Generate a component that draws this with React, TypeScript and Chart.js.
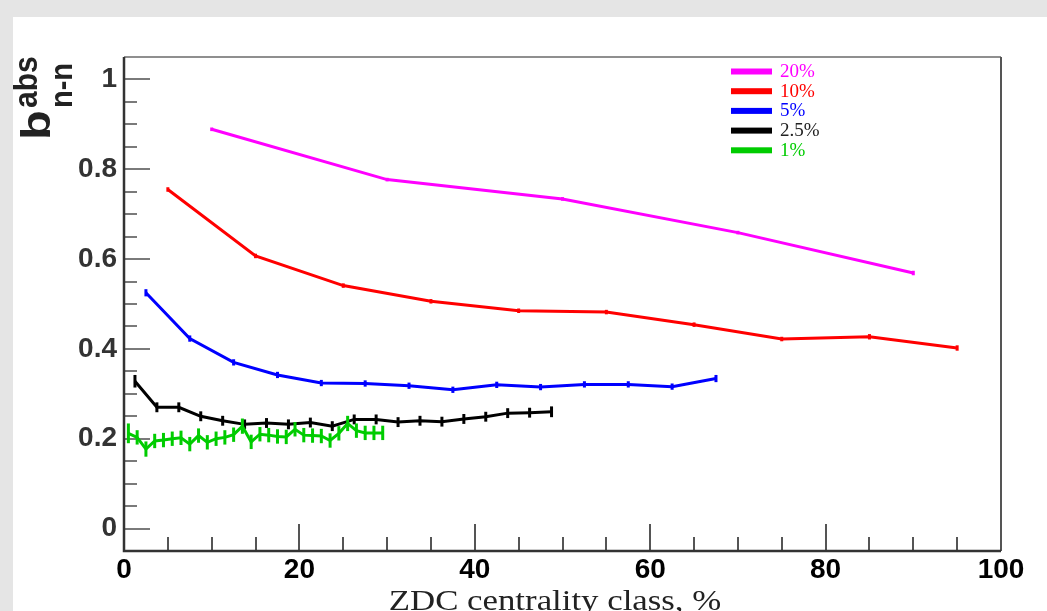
import React, { useEffect, useRef } from 'react';
import { Chart, registerables } from 'chart.js';

Chart.register(...registerables);

// ---- data ----
const SERIES_LABELS = ['20%', '10%', '5%', '2.5%', '1%'];
const SERIES_COLORS = ['#ff00ff', '#ff0000', '#0000ff', '#000000', '#00cc00'];

const X_20 = [10, 30, 50, 70, 90];
const Y_20 = [0.889, 0.777, 0.734, 0.659, 0.569];
const E_20 = [0.004, 0.004, 0.004, 0.004, 0.005];

const X_10 = [5, 15, 25, 35, 45, 55, 65, 75, 85, 95];
const Y_10 = [0.755, 0.607, 0.541, 0.506, 0.485, 0.482, 0.454, 0.422, 0.427, 0.402];
const E_10 = [0.005, 0.005, 0.005, 0.005, 0.005, 0.005, 0.005, 0.005, 0.006, 0.006];

const X_5 = [2.5, 7.5, 12.5, 17.5, 22.5, 27.5, 32.5, 37.5, 42.5, 47.5, 52.5, 57.5, 62.5, 67.5];
const Y_5 = [0.525, 0.423, 0.37, 0.342, 0.324, 0.323, 0.318, 0.309, 0.32, 0.315, 0.321, 0.321, 0.316, 0.334];
const E_5 = [0.008, 0.007, 0.007, 0.007, 0.007, 0.007, 0.007, 0.007, 0.007, 0.007, 0.007, 0.007, 0.007, 0.008];

const X_2P5 = [1.25, 3.75, 6.25, 8.75, 11.25, 13.75, 16.25, 18.75, 21.25, 23.75, 26.25, 28.75, 31.25, 33.75, 36.25, 38.75, 41.25, 43.75, 46.25, 48.75];
const Y_2P5 = [0.328, 0.27, 0.27, 0.25, 0.24, 0.232, 0.235, 0.232, 0.236, 0.228, 0.243, 0.243, 0.237, 0.24, 0.238, 0.244, 0.249, 0.257, 0.258, 0.26];
const E_2P5 = [0.014, 0.011, 0.011, 0.011, 0.011, 0.011, 0.011, 0.011, 0.011, 0.011, 0.011, 0.011, 0.011, 0.011, 0.011, 0.011, 0.011, 0.011, 0.011, 0.012];

const X_1 = [0.5, 1.5, 2.5, 3.5, 4.5, 5.5, 6.5, 7.5, 8.5, 9.5, 10.5, 11.5, 12.5, 13.5, 14.5, 15.5, 16.5, 17.5, 18.5, 19.5, 20.5, 21.5, 22.5, 23.5, 24.5, 25.5, 26.5, 27.5, 28.5, 29.5];
const Y_1 = [0.212, 0.203, 0.177, 0.195, 0.197, 0.2, 0.202, 0.188, 0.207, 0.192, 0.2, 0.203, 0.209, 0.228, 0.193, 0.21, 0.208, 0.205, 0.204, 0.221, 0.208, 0.207, 0.206, 0.196, 0.212, 0.234, 0.218, 0.213, 0.213, 0.213];
const E_1 = [0.022, 0.016, 0.017, 0.016, 0.016, 0.016, 0.016, 0.016, 0.016, 0.016, 0.016, 0.016, 0.016, 0.017, 0.016, 0.016, 0.016, 0.016, 0.016, 0.016, 0.016, 0.016, 0.016, 0.016, 0.016, 0.017, 0.016, 0.016, 0.016, 0.016];

const SERIES_X = [X_20, X_10, X_5, X_2P5, X_1];
const SERIES_Y = [Y_20, Y_10, Y_5, Y_2P5, Y_1];
const SERIES_E = [E_20, E_10, E_5, E_2P5, E_1];

const X_TICKS = [0, 20, 40, 60, 80, 100];
const X_MINOR_TICKS = [5, 10, 15, 25, 30, 35, 45, 50, 55, 65, 70, 75, 85, 90, 95];
const Y_TICKS = [0, 0.2, 0.4, 0.6, 0.8, 1];
const Y_MINOR_TICKS = [0.05, 0.1, 0.15, 0.25, 0.3, 0.35, 0.45, 0.5, 0.55, 0.65, 0.7, 0.75, 0.85, 0.9, 0.95];

const X_TITLE = 'ZDC centrality class, %';
const Y_TITLE_MAIN = 'b';
const Y_TITLE_SUP = 'abs';
const Y_TITLE_SUB = 'n-n';

const W = 1047;
const H = 611;

const SANS = '"Liberation Sans", Arial, Helvetica, sans-serif';
const SERIF = '"Liberation Serif", "Times New Roman", Times, serif';

const decorPlugin = {
  id: 'decor',
  beforeDraw(chart: any) {
    const ctx = chart.ctx;
    ctx.save();
    ctx.fillStyle = '#e5e5e5';
    ctx.fillRect(0, 0, chart.width, chart.height);
    ctx.fillStyle = '#ffffff';
    ctx.fillRect(13, 17, chart.width - 13, chart.height - 17);
    ctx.restore();
  },
  beforeDatasetsDraw(chart: any) {
    const { ctx, chartArea: a, scales } = chart;
    const xs = scales.x;
    const ys = scales.y;
    ctx.save();
    ctx.lineWidth = 2;
    ctx.strokeStyle = '#7a7a7a';
    Y_TICKS.forEach((v) => {
      const py = Math.round(ys.getPixelForValue(v));
      ctx.beginPath();
      ctx.moveTo(a.left, py);
      ctx.lineTo(a.left + 26, py);
      ctx.stroke();
    });
    Y_MINOR_TICKS.forEach((v) => {
      const py = Math.round(ys.getPixelForValue(v));
      ctx.beginPath();
      ctx.moveTo(a.left, py);
      ctx.lineTo(a.left + 13, py);
      ctx.stroke();
    });
    ctx.strokeStyle = '#555555';
    X_TICKS.forEach((v) => {
      const px = Math.round(xs.getPixelForValue(v));
      ctx.beginPath();
      ctx.moveTo(px, a.bottom);
      ctx.lineTo(px, a.bottom - 27);
      ctx.stroke();
    });
    X_MINOR_TICKS.forEach((v) => {
      const px = Math.round(xs.getPixelForValue(v));
      ctx.beginPath();
      ctx.moveTo(px, a.bottom);
      ctx.lineTo(px, a.bottom - 14);
      ctx.stroke();
    });
    ctx.restore();
  },
  afterDatasetDraw(chart: any, args: any) {
    const { ctx, scales } = chart;
    const i = args.index;
    const xsArr = SERIES_X[i];
    const ysArr = SERIES_Y[i];
    const es = SERIES_E[i];
    ctx.save();
    ctx.strokeStyle = SERIES_COLORS[i];
    ctx.lineWidth = 3;
    xsArr.forEach((xv, k) => {
      const px = scales.x.getPixelForValue(xv);
      const p1 = scales.y.getPixelForValue(ysArr[k] - es[k]);
      const p2 = scales.y.getPixelForValue(ysArr[k] + es[k]);
      ctx.beginPath();
      ctx.moveTo(px, p1);
      ctx.lineTo(px, p2);
      ctx.stroke();
    });
    ctx.restore();
  },
  afterDraw(chart: any) {
    const { ctx, chartArea: a } = chart;
    ctx.save();
    // frame
    ctx.strokeStyle = '#6a6a6a';
    ctx.lineWidth = 1.5;
    ctx.beginPath();
    ctx.moveTo(a.left, a.top);
    ctx.lineTo(a.right, a.top);
    ctx.stroke();
    ctx.strokeStyle = '#555555';
    ctx.lineWidth = 2;
    ctx.beginPath();
    ctx.moveTo(a.right, a.top);
    ctx.lineTo(a.right, a.bottom);
    ctx.stroke();
    ctx.strokeStyle = '#333333';
    ctx.lineWidth = 2.5;
    ctx.beginPath();
    ctx.moveTo(a.left, a.top);
    ctx.lineTo(a.left, a.bottom);
    ctx.lineTo(a.right, a.bottom);
    ctx.stroke();

    // legend
    const legX0 = 731;
    const legX1 = 772;
    const legY0 = 71.5;
    const legStep = 19.7;
    SERIES_LABELS.forEach((lab, i) => {
      const cy = legY0 + i * legStep;
      ctx.fillStyle = SERIES_COLORS[i];
      ctx.fillRect(legX0, cy - 3, legX1 - legX0, 6);
      ctx.font = `19px ${SERIF}`;
      ctx.textAlign = 'left';
      ctx.textBaseline = 'alphabetic';
      ctx.fillStyle = i === 3 ? '#222222' : SERIES_COLORS[i];
      ctx.fillText(lab, 780, cy + 5.5);
    });

    // x title (horizontally stretched serif)
    ctx.save();
    ctx.fillStyle = '#222222';
    ctx.font = `29px ${SERIF}`;
    ctx.textAlign = 'center';
    ctx.textBaseline = 'alphabetic';
    ctx.translate(555, 610);
    ctx.scale(1.2, 1);
    ctx.fillText(X_TITLE, 0, 0);
    ctx.restore();

    // y title (rotated)
    ctx.save();
    ctx.translate(50, 140);
    ctx.rotate(-Math.PI / 2);
    ctx.textAlign = 'left';
    ctx.textBaseline = 'alphabetic';
    ctx.fillStyle = '#222222';
    ctx.save();
    ctx.scale(1.25, 1.05);
    ctx.font = `bold 39px ${SANS}`;
    ctx.fillText(Y_TITLE_MAIN, 0, 0);
    ctx.restore();
    ctx.scale(1, 1.08);
    ctx.font = `bold 30px ${SANS}`;
    ctx.fillText(Y_TITLE_SUP, 32, -12);
    ctx.font = `bold 29px ${SANS}`;
    ctx.fillText(Y_TITLE_SUB, 32, 20.5);
    ctx.restore();
    ctx.restore();
  },
};

export default function App() {
  const ref = useRef<HTMLCanvasElement | null>(null);

  useEffect(() => {
    if (!ref.current) return;
    const datasets = SERIES_LABELS.map((lab, i) => ({
      label: lab,
      data: SERIES_X[i].map((xv, k) => ({ x: xv, y: SERIES_Y[i][k] })),
      borderColor: SERIES_COLORS[i],
      backgroundColor: SERIES_COLORS[i],
      borderWidth: 3,
      pointRadius: 0,
      pointHoverRadius: 0,
      tension: 0,
      fill: false,
      order: SERIES_LABELS.length - 1 - i,
    }));
    const chart = new Chart(ref.current, {
      type: 'line',
      data: { datasets },
      options: {
        animation: false,
        responsive: false,
        devicePixelRatio: 1,
        layout: { padding: { left: 0, top: 57, right: 46, bottom: 0 } },
        plugins: {
          legend: { display: false },
          tooltip: { enabled: false },
          title: { display: false },
        },
        scales: {
          x: {
            type: 'linear',
            min: 0,
            max: 100,
            grid: { display: false, drawTicks: false },
            border: { display: false },
            afterFit: (s: any) => {
              s.height = 60;
            },
            afterBuildTicks: (s: any) => {
              s.ticks = X_TICKS.map((v) => ({ value: v }));
            },
            ticks: {
              padding: 2,
              color: '#000000',
              font: { family: SANS, size: 28, weight: 'bold' },
              maxRotation: 0,
              autoSkip: false,
              callback: (v: any) => String(v),
            },
          },
          y: {
            type: 'linear',
            min: -0.05,
            max: 1.05,
            grid: { display: false, drawTicks: false },
            border: { display: false },
            afterFit: (s: any) => {
              s.width = 124;
            },
            afterBuildTicks: (s: any) => {
              s.ticks = Y_TICKS.map((v) => ({ value: v }));
            },
            ticks: {
              padding: 7,
              color: '#333333',
              font: { family: SANS, size: 28, weight: 'bold' },
              autoSkip: false,
              callback: (v: any) => String(parseFloat(Number(v).toFixed(2))),
            },
          },
        },
      },
      plugins: [decorPlugin],
    } as any);
    return () => chart.destroy();
  }, []);

  return (
    <div style={{ position: 'fixed', left: 0, top: 0, width: W, height: H, overflow: 'hidden' }}>
      <canvas ref={ref} width={W} height={H} style={{ display: 'block', width: W, height: H }} />
    </div>
  );
}
